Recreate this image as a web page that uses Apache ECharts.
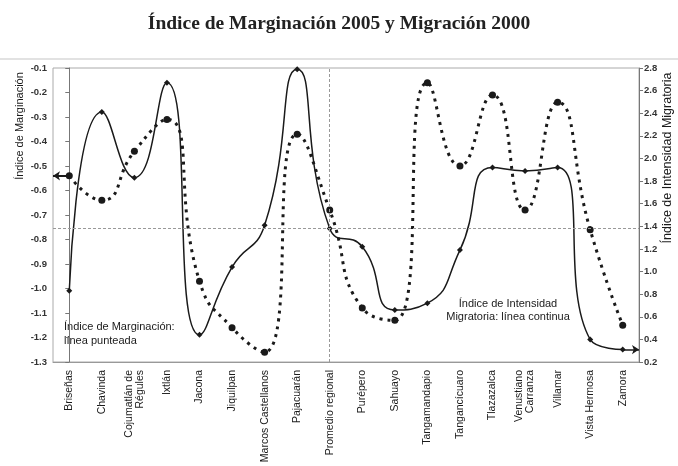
<!DOCTYPE html>
<html>
<head>
<meta charset="utf-8">
<script src="https://cdn.jsdelivr.net/npm/echarts@6/dist/echarts.min.js"></script>
<style>html,body{margin:0;padding:0;background:#fff}#c{width:678px;height:466px}</style>
</head>
<body>
<div id="c"></div>
<script>
const categories = ['Briseñas','Chavinda','Cojumatlán de\nRégules','Ixtlán','Jacona','Jiquilpan','Marcos Castellanos','Pajacuarán','Promedio regional','Purépero','Sahuayo','Tangamandapio','Tangancícuaro','Tlazazalca','Venustiano\nCarranza','Villamar','Vista Hermosa','Zamora'];
const marginacion = [-0.54,-0.64,-0.44,-0.31,-0.97,-1.16,-1.26,-0.37,-0.68,-1.08,-1.13,-0.16,-0.50,-0.21,-0.68,-0.24,-0.76,-1.15];
const migracion = [0.83,2.41,1.83,2.67,0.44,1.04,1.41,2.79,1.38,1.22,0.66,0.72,1.19,1.92,1.89,1.92,0.40,0.31];
const leftTicks = {min:-1.3, max:-0.1, interval:0.1};
const rightTicks = {min:0.2, max:2.8, interval:0.2};
const promedioLabel = 'Promedio regional';

const ink = '#1a1a1a';
const chart = echarts.init(document.getElementById('c'));
const promIdx = categories.indexOf(promedioLabel);
const nLast = categories.length - 1;

chart.setOption({
  animation:false,
  title:{text:'Índice de Marginación 2005 y Migración 2000', left:'center', top:9,
    textStyle:{fontFamily:'Liberation Serif', fontSize:19.5, fontWeight:'bold', color:'#222'}},
  grid:{left:53, right:39, top:68, bottom:104, show:true, borderColor:'#aaa', borderWidth:1},
  xAxis:[{
    type:'category', data:categories, boundaryGap:true,
    axisLine:{lineStyle:{color:'#999'}}, axisTick:{show:false},
    axisLabel:{interval:0, rotate:90, fontFamily:'Liberation Sans', fontSize:10.5, color:ink, margin:8, lineHeight:11}
  },{
    type:'value', min:-0.5, max:nLast+0.5, show:false
  }],
  yAxis:[{
    type:'value', min:leftTicks.min, max:leftTicks.max, interval:leftTicks.interval, position:'left',
    splitLine:{show:false}, axisLine:{show:true, lineStyle:{color:'#777'}},
    axisTick:{show:true, length:4, lineStyle:{color:'#777'}},
    axisLabel:{formatter:v=>v.toFixed(1), fontFamily:'Liberation Sans', fontSize:9.5, fontWeight:'bold', color:'#333', margin:6}
  },{
    type:'value', min:rightTicks.min, max:rightTicks.max, interval:rightTicks.interval, position:'right',
    splitLine:{show:false}, axisLine:{show:true, lineStyle:{color:'#777'}},
    axisTick:{show:true, length:4, lineStyle:{color:'#777'}},
    axisLabel:{formatter:v=>v.toFixed(1), fontFamily:'Liberation Sans', fontSize:9.5, fontWeight:'bold', color:'#333', margin:5}
  }],
  graphic:[
    {type:'line', shape:{x1:0,y1:59,x2:678,y2:59}, style:{stroke:'#e2e2e2', lineWidth:2}},
    {type:'text', x:20, y:126, rotation:Math.PI/2,
      style:{text:'Índice de Marginación', font:'11px "Liberation Sans"', fill:ink, align:'center', verticalAlign:'middle'}},
    {type:'text', x:668, y:158, rotation:Math.PI/2,
      style:{text:'Índice de Intensidad Migratoria', font:'12.5px "Liberation Sans"', fill:ink, align:'center', verticalAlign:'middle'}},
    {type:'text', x:64, y:334,
      style:{text:'Índice de Marginación:\nlínea punteada', font:'11px "Liberation Sans"', fill:ink, align:'left', verticalAlign:'middle', lineHeight:14}},
    {type:'text', x:508, y:310,
      style:{text:'Índice de Intensidad\nMigratoria: línea continua', font:'11px "Liberation Sans"', fill:ink, align:'center', verticalAlign:'middle', lineHeight:13}}
  ],
  series:[{
    name:'Marginación', type:'line', data:marginacion, yAxisIndex:0, smooth:0.55,
    symbol:'circle', symbolSize:7, itemStyle:{color:ink},
    lineStyle:{color:ink, width:3, type:[3,5]}
  },{
    name:'Migración', type:'line', data:migracion, yAxisIndex:1, smooth:0.55,
    symbol:'diamond', symbolSize:6, itemStyle:{color:ink},
    lineStyle:{color:ink, width:1.5},
    markLine:{silent:true, symbol:'none', label:{show:false},
      lineStyle:{color:'#999', type:[3,2], width:1},
      data:[{yAxis:migracion[promIdx]},{xAxis:promIdx}]}
  },{
    type:'line', xAxisIndex:1, yAxisIndex:0, data:[], 
    markLine:{silent:true, symbol:['none','arrow'], symbolSize:7, label:{show:false},
      lineStyle:{color:ink, width:2, type:'solid'},
      data:[[{coord:[0, marginacion[0]]},{coord:[-0.5, marginacion[0]]}]]}
  },{
    type:'line', xAxisIndex:1, yAxisIndex:1, data:[],
    markLine:{silent:true, symbol:['none','arrow'], symbolSize:7, label:{show:false},
      lineStyle:{color:ink, width:1.5, type:'solid'},
      data:[[{coord:[nLast, migracion[nLast]]},{coord:[nLast+0.5, migracion[nLast]]}]]}
  }]
});
</script>
</body>
</html>
